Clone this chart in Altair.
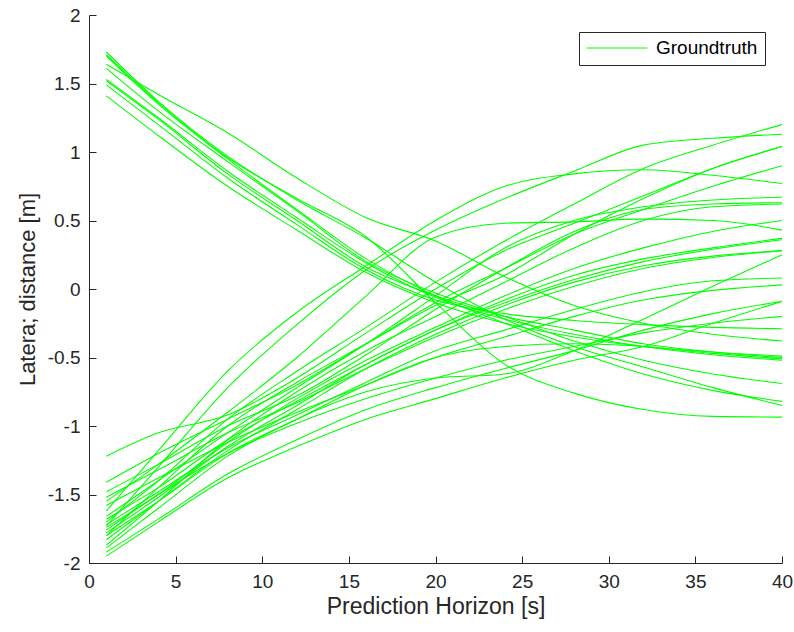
import altair as alt
import pandas as pd

# sample positions along the prediction horizon [s]
X_POINTS = [1, 4, 8, 12, 16, 20, 24, 28, 32, 36, 40]

# descending trajectories (lateral distance [m])
D1 = [1.64, 1.42, 1.14, 0.81, 0.52, 0.35, 0.09, -0.12, -0.25, -0.33, -0.38]
D2 = [1.73, 1.37, 0.97, 0.65, 0.37, 0.05, -0.22, -0.42, -0.57, -0.72, -0.85]
D3 = [1.70, 1.35, 0.95, 0.58, 0.22, -0.05, -0.25, -0.45, -0.62, -0.74, -0.82]
D4 = [1.61, 1.30, 0.93, 0.57, 0.20, -0.03, -0.20, -0.38, -0.52, -0.62, -0.69]
D5 = [1.53, 1.25, 0.86, 0.52, 0.19, -0.06, -0.22, -0.33, -0.42, -0.48, -0.52]
D6 = [1.52, 1.24, 0.84, 0.50, 0.16, -0.05, -0.20, -0.30, -0.40, -0.46, -0.50]
D7 = [1.49, 1.20, 0.81, 0.47, 0.14, -0.08, -0.18, -0.23, -0.26, -0.28, -0.29]
D8 = [1.41, 1.12, 0.75, 0.43, 0.12, -0.10, -0.25, -0.35, -0.42, -0.46, -0.49]
D9 = [1.71, 1.36, 0.96, 0.66, 0.38, -0.10, -0.55, -0.76, -0.88, -0.93, -0.935]

# ascending trajectories
A1 = [-1.62, -1.18, -0.60, -0.17, 0.17, 0.50, 0.75, 0.84, 0.87, 0.83, 0.77]
A2 = [-1.73, -1.30, -0.72, -0.26, 0.14, 0.43, 0.66, 0.86, 1.05, 1.10, 1.13]
A3 = [-1.55, -1.28, -0.90, -0.50, -0.05, 0.38, 0.48, 0.49, 0.51, 0.50, 0.43]
A4 = [-1.70, -1.40, -0.95, -0.60, -0.28, 0.05, 0.35, 0.62, 0.88, 1.05, 1.20]
A5 = [-1.22, -1.05, -0.92, -0.65, -0.32, 0.00, 0.28, 0.48, 0.68, 0.88, 1.04]
A6 = [-1.80, -1.45, -1.00, -0.68, -0.40, -0.12, 0.10, 0.40, 0.66, 0.88, 1.04]
A7 = [-1.41, -1.20, -0.95, -0.70, -0.40, -0.10, 0.15, 0.40, 0.58, 0.75, 0.90]
A8 = [-1.66, -1.40, -1.05, -0.72, -0.40, -0.05, 0.30, 0.50, 0.60, 0.65, 0.67]
A9 = [-1.48, -1.28, -1.00, -0.78, -0.48, -0.15, 0.15, 0.42, 0.58, 0.62, 0.63]
A10 = [-1.87, -1.55, -1.10, -0.75, -0.45, -0.20, 0.05, 0.30, 0.50, 0.60, 0.62]
A11 = [-1.74, -1.50, -1.12, -0.80, -0.52, -0.28, -0.05, 0.15, 0.30, 0.42, 0.50]
A12 = [-1.78, -1.52, -1.15, -0.85, -0.55, -0.30, -0.08, 0.10, 0.22, 0.30, 0.37]
A13 = [-1.68, -1.45, -1.10, -0.82, -0.55, -0.30, -0.10, 0.07, 0.20, 0.29, 0.36]
A14 = [-1.83, -1.55, -1.18, -0.88, -0.58, -0.33, -0.12, 0.05, 0.17, 0.24, 0.28]
A15 = [-1.52, -1.32, -1.05, -0.83, -0.58, -0.35, -0.15, 0.02, 0.15, 0.23, 0.28]
A16 = [-1.89, -1.60, -1.22, -0.95, -0.75, -0.65, -0.62, -0.45, -0.22, 0.02, 0.25]
A17 = [-1.92, -1.68, -1.35, -1.10, -0.88, -0.72, -0.58, -0.45, -0.30, -0.18, -0.09]
A18 = [-1.95, -1.70, -1.38, -1.15, -0.95, -0.80, -0.65, -0.52, -0.42, -0.25, -0.09]
A19 = [-1.76, -1.50, -1.20, -0.98, -0.80, -0.65, -0.52, -0.42, -0.32, -0.25, -0.20]
A20 = [-1.58, -1.38, -1.12, -0.90, -0.70, -0.50, -0.35, -0.20, -0.08, -0.01, 0.03]
A21 = [-1.72, -1.48, -1.16, -0.92, -0.68, -0.45, -0.30, -0.15, -0.02, 0.06, 0.08]
A22 = [-1.80, -1.55, -1.20, -0.95, -0.70, -0.50, -0.42, -0.40, -0.42, -0.47, -0.51]

SERIES = [D1, D2, D3, D4, D5, D6, D7, D8, D9,
          A1, A2, A3, A4, A5, A6, A7, A8, A9, A10, A11,
          A12, A13, A14, A15, A16, A17, A18, A19, A20, A21, A22]

X_TICKS = [0, 5, 10, 15, 20, 25, 30, 35, 40]
Y_TICKS = [-2, -1.5, -1, -0.5, 0, 0.5, 1, 1.5, 2]
LEGEND_LABEL = "Groundtruth"

rows = []
for i, s in enumerate(SERIES):
    for xv, yv in zip(X_POINTS, s):
        rows.append({"id": i, "x": xv, "y": yv, "label": LEGEND_LABEL})
df = pd.DataFrame(rows)

W, H = 693, 548
FONT = "Liberation Sans"
INK = "#262626"

xscale = alt.Scale(domain=[0, 40], nice=False, zero=False)
yscale = alt.Scale(domain=[-2, 2], nice=False, zero=False)

lines = alt.Chart(df).mark_line(strokeWidth=1.1, interpolate="monotone").encode(
    x=alt.X("x:Q", scale=xscale,
            axis=alt.Axis(orient="bottom", values=X_TICKS, title="Prediction Horizon [s]",
                          ticks=False, tickSize=0, labelPadding=9, titlePadding=4,
                          labelFlush=False, labelOverlap=False,
                          titleFontSize=23, labelExpr="datum.value + ''")),
    y=alt.Y("y:Q", scale=yscale,
            axis=alt.Axis(orient="left", values=Y_TICKS, title="Latera; distance [m]",
                          ticks=False, tickSize=0, labelPadding=9, titlePadding=8,
                          labelFlush=False, labelOverlap=False,
                          titleFontSize=22, labelExpr="datum.value + ''")),
    color=alt.Color("label:N",
                    scale=alt.Scale(domain=[LEGEND_LABEL], range=["#00ff00"]),
                    legend=alt.Legend(title=None, orient="none", legendX=490, legendY=17,
                                      symbolType="stroke", symbolSize=3700,
                                      symbolStrokeWidth=1, clipHeight=18,
                                      labelFont=FONT, labelFontSize=19, labelColor="#000000",
                                      labelOffset=8, padding=7,
                                      strokeColor=INK, fillColor="white")),
    detail="id:N",
)

tick_layer = alt.Chart(df).mark_line(opacity=0).encode(
    x=alt.X("x:Q", scale=xscale,
            axis=alt.Axis(orient="top", offset=-H, values=X_TICKS, labels=False,
                          domain=False, ticks=True, tickSize=7, title=None)),
    y=alt.Y("y:Q", scale=yscale,
            axis=alt.Axis(orient="right", offset=-W, values=Y_TICKS, labels=False,
                          domain=False, ticks=True, tickSize=7, title=None)),
    detail="id:N",
)

chart = alt.layer(lines, tick_layer).resolve_axis(
    x="independent", y="independent"
).properties(
    width=W, height=H,
    padding={"left": 89, "top": 15, "right": 12, "bottom": 69},
    autosize=alt.AutoSizeParams(type="none"),
    background="white",
).configure_view(stroke=None).configure_axis(
    grid=False,
    labelFont=FONT, labelFontSize=19, labelColor=INK,
    titleFont=FONT, titleFontWeight="normal", titleColor=INK,
    domainColor=INK, tickColor=INK, domainWidth=1, tickWidth=1,
)

chart.save("out.html", embed_options={"renderer": "svg", "actions": False})
